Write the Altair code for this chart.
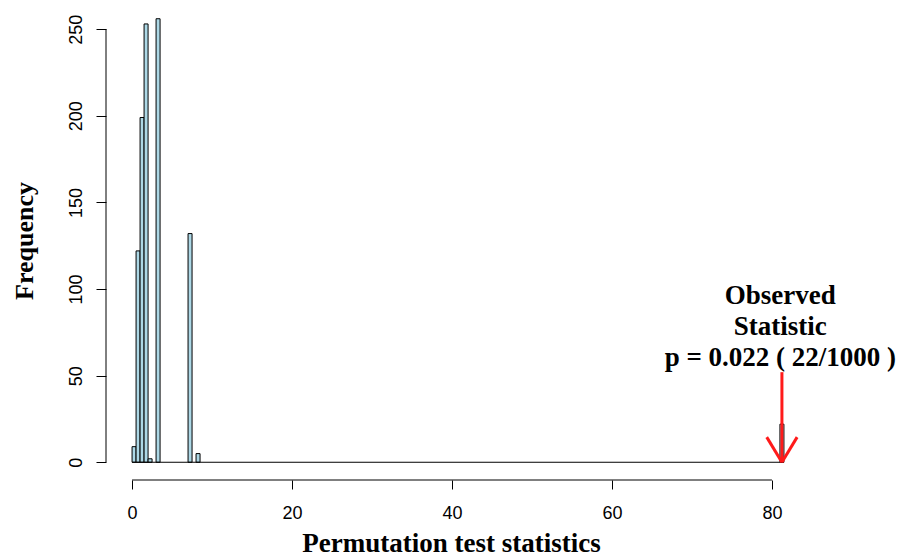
import altair as alt
import pandas as pd

# Histogram of permutation statistics (bin width 0.5); only non-empty bins listed
bin_start = [0.0, 0.5, 1.0, 1.5, 2.0, 3.0, 7.0, 8.0, 81.0]
counts = [9, 122, 199, 253, 2, 256, 132, 5, 22]
bin_width = 0.5
hist_max_edge = 81.5

obs_stat = 81.25
p_label = "Observed\nStatistic\np = 0.022 ( 22/1000 )"

x_ticks = [0, 20, 40, 60, 80]
y_ticks = [0, 50, 100, 150, 200, 250]

W, H = 704, 479
x_dom = [-0.04 * hist_max_edge, hist_max_edge * 1.04]
y_dom = [-0.04 * 256, 256 * 1.04]

bars = pd.DataFrame({"start": bin_start, "count": counts})
bars["end"] = bars["start"] + bin_width

xs = alt.Scale(domain=x_dom, nice=False, zero=False)
ys = alt.Scale(domain=y_dom, nice=False, zero=False)

axis_font = "Liberation Sans"
title_font = "Liberation Serif"

x_axis = alt.Axis(values=x_ticks, domain=False, grid=False, tickSize=9, tickColor="black",
                  tickWidth=1, labelFont=axis_font, labelFontSize=18, labelColor="black",
                  labelPadding=15, title="Permutation test statistics", titleFont=title_font,
                  titleFontSize=27, titleFontWeight="bold", titleColor="black", titlePadding=8,
                  titleX=345)
y_axis = alt.Axis(values=y_ticks, domain=False, grid=False, tickSize=10, tickColor="black",
                  tickWidth=1, labelFont=axis_font, labelFontSize=18, labelColor="black",
                  labelAngle=270, labelAlign="center", labelBaseline="bottom", labelPadding=11,
                  title="Frequency", titleFont=title_font, titleFontSize=26,
                  titleFontWeight="bold", titleColor="black", titlePadding=30)

base = alt.Chart(bars)

hist = base.mark_rect(fill="#ADD8E6", stroke="black", strokeWidth=1).encode(
    x=alt.X("start:Q", scale=xs, axis=x_axis),
    x2="end:Q",
    y=alt.Y("count:Q", scale=ys, axis=y_axis),
    y2=alt.datum(0),
)

baseline = alt.Chart(pd.DataFrame({"a": [0.0], "b": [hist_max_edge]})).mark_rule(
    color="black", strokeWidth=1).encode(
    x=alt.X("a:Q", scale=xs), x2="b:Q", y=alt.datum(0, scale=ys))

x_line = alt.Chart(pd.DataFrame({"a": [x_ticks[0]], "b": [x_ticks[-1]]})).mark_rule(
    color="black", strokeWidth=1).encode(
    x=alt.X("a:Q", scale=xs), x2="b:Q", y=alt.value(H))

y_line = alt.Chart(pd.DataFrame({"a": [y_ticks[0]], "b": [y_ticks[-1]]})).mark_rule(
    color="black", strokeWidth=1).encode(
    y=alt.Y("a:Q", scale=ys), y2="b:Q", x=alt.value(0))

arrow_top = 52
head_dx, head_dy = 1.9, 14.5
arrow_df = pd.DataFrame({
    "x1": [obs_stat, obs_stat - head_dx, obs_stat + head_dx],
    "y1": [arrow_top, head_dy, head_dy],
    "x2": [obs_stat, obs_stat, obs_stat],
    "y2": [0, 0, 0],
})
arrow = alt.Chart(arrow_df).mark_rule(color="#ff1a1a", strokeWidth=3).encode(
    x=alt.X("x1:Q", scale=xs), x2="x2:Q",
    y=alt.Y("y1:Q", scale=ys), y2="y2:Q")

label = alt.Chart(pd.DataFrame({"x": [obs_stat - 0.2], "y": [88], "t": [p_label]})).mark_text(
    font=title_font, fontSize=27, fontWeight="bold", color="black", align="center",
    baseline="bottom", lineBreak="\n", lineHeight=31).encode(
    x=alt.X("x:Q", scale=xs), y=alt.Y("y:Q", scale=ys), text="t:N")

chart = alt.layer(hist, baseline, x_line, y_line, arrow, label).properties(
    width=W, height=H,
    autosize=alt.AutoSizeParams(type="none"),
    padding={"left": 106, "top": 1, "right": 92, "bottom": 78},
    background="white",
).configure_view(stroke=None)

chart.save("out.html", embed_options={"renderer": "svg", "actions": False})
